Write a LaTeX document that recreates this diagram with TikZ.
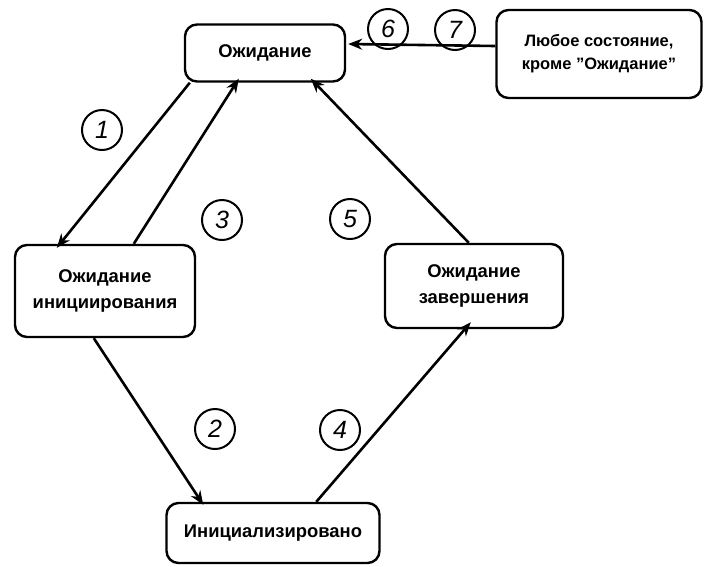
\documentclass[tikz,border=0pt]{standalone}
\usepackage{fontspec}
\setmainfont{Liberation Sans}
\usetikzlibrary{arrows.meta}
\begin{document}
\begin{tikzpicture}[x=1pt,y=-1pt,
  state/.style={draw, line width=2.4pt, rounded corners=12pt, align=center,
    font=\fontsize{18.4}{26}\selectfont\bfseries, inner sep=0pt},
  num/.style={draw, circle, line width=2pt, minimum size=40pt, inner sep=0pt,
    font=\fontsize{25}{25}\selectfont\itshape},
  arr/.style={line width=2.6pt, -{Stealth[length=14pt,width=11pt]}}]
\useasboundingbox (0,0) rectangle (704,566);
\node[state, minimum width=160pt, minimum height=57pt] (wait) at (265,53) {Ожидание};
\node[state, minimum width=205pt, minimum height=88pt, font=\fontsize{16.5}{23}\selectfont\bfseries] (any) at (599,54) {Любое состояние,\\кроме ''Ожидание''};
\node[state, minimum width=180pt, minimum height=92pt] (init) at (105,291) {Ожидание\\инициирования};
\node[state, minimum width=178pt, minimum height=84pt] (fin) at (474,286) {Ожидание\\завершения};
\node[state, minimum width=213pt, minimum height=60pt] (done) at (273,533) {Инициализировано};
\node[num] (n1) at (102,130) {1};
\node[num] (n2) at (215,429) {2};
\node[num] (n3) at (222,220) {3};
\node[num] (n4) at (340,430) {4};
\node[num] (n5) at (350,219) {5};
\node[num] (n6) at (388,29) {6};
\node[num] (n7) at (455,30) {7};
\draw[arr] ([xshift=6pt]wait.south west) -- ([xshift=43pt,yshift=-4pt]init.north west);
\draw[arr] ([xshift=120pt]init.north west) -- ([xshift=55pt,yshift=4pt]wait.south west);
\draw[arr] ([xshift=85pt]fin.north west) -- ([xshift=127pt,yshift=4pt]wait.south west);
\draw[arr] ([xshift=80pt]init.south west) -- ([xshift=38pt,yshift=-3pt]done.north west);
\draw[arr] ([xshift=151pt]done.north west) -- ([xshift=87pt,yshift=7pt]fin.south west);
\draw[arr] ([yshift=8pt]any.west) -- ([yshift=9pt,xshift=2pt]wait.east);
\end{tikzpicture}
\end{document}
